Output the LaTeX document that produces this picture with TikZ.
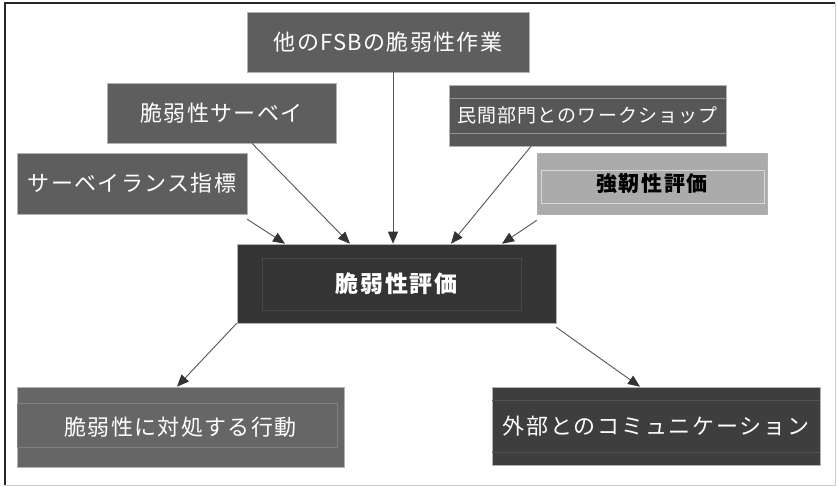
\documentclass[tikz,border=0pt]{standalone}
\usepackage{fontspec}
\newfontfamily\jp{Noto Sans CJK JP}
\newfontfamily\jpA[LetterSpace=6]{Noto Sans CJK JP}
\newfontfamily\jpB[LetterSpace=8]{Noto Sans CJK JP}
\usetikzlibrary{arrows.meta}
\definecolor{boxmid}{HTML}{5E5E5E}
\definecolor{boxws}{HTML}{575757}
\definecolor{boxlight}{HTML}{ABABAB}
\definecolor{boxdark}{HTML}{343434}
\definecolor{boxdark2}{HTML}{3E3E3E}
\definecolor{boxact}{HTML}{666666}
\definecolor{linegray}{HTML}{555555}
\tikzset{
  box/.style={rectangle, inner sep=0pt, text=white, font=\jpA\fontsize{22}{25}\selectfont, draw=gray!60, line width=0.6pt},
  lbl/.style={inner sep=0pt},
  arr/.style={draw=linegray, line width=0.9pt, -{Triangle[length=12pt,width=10pt,fill=black!80,color=black!80]}},
}
\begin{document}
\begin{tikzpicture}[x=1pt,y=-1pt]
\useasboundingbox (0,0) rectangle (838,487);
\fill[white] (0,0) rectangle (838,487);
% frame
\draw[black!20, line width=0.8pt] (835,3) -- (835,485) -- (5,485);
\draw[black!85, line width=1.2pt] (5,485) -- (5,3) -- (835,3);

% nodes
\node[box, fill=boxmid, minimum width=282, minimum height=60] (fsb) at (388,42) {他のFSBの脆弱性作業};
\node[box, fill=boxmid, minimum width=229, minimum height=60] (surv) at (221.5,113) {脆弱性サーベイ};
\node[box, fill=boxmid, minimum width=230, minimum height=61] (ind) at (132,183.5) {サーベイランス指標};
\node[box, fill=boxws, minimum width=277, minimum height=61] (ws) at (587.5,115.5) {};
\draw[gray!85, line width=0.5pt] (ws.west |- 0,98) -- (ws.east |- 0,98);
\draw[gray!85, line width=0.5pt] (ws.west |- 0,133) -- (ws.east |- 0,133);
\node[lbl, text=white, font=\jpA\fontsize{19}{22}\selectfont] (wst) at (ws.center) {民間部門とのワークショップ};
\node[box, fill=boxlight, minimum width=230, minimum height=61] (res) at (652,183.5) {};
\draw[white!55!boxlight, line width=0.6pt] (541,170) rectangle (764,203);
\node[lbl, text=black, font=\jpB\bfseries\fontsize{21}{24}\selectfont] (rest) at (res.center) {強靭性評価};
\node[box, fill=boxdark, minimum width=319, minimum height=79] (va) at (396.5,283.5) {};
\draw[black!72, line width=0.5pt] (262,258) rectangle (521,310);
\node[lbl, text=white, font=\jpB\bfseries\fontsize{23}{26}\selectfont] (vat) at (va.center) {脆弱性評価};
\node[box, fill=boxact, minimum width=327, minimum height=80] (act) at (180.5,427) {};
\draw[black!50, line width=0.4pt] (17,403) rectangle (337,447);
\node[lbl, text=white, font=\jpA\fontsize{22}{25}\selectfont] (actt) at (act.center) {脆弱性に対処する行動};
\node[box, fill=boxdark2, minimum width=328, minimum height=78] (com) at (656,426) {};
\draw[black!68, line width=0.4pt] (492,400) -- (820,400);
\draw[black!68, line width=0.4pt] (492,452) -- (820,452);
\node[lbl, text=white, font=\jpB\fontsize{22}{25}\selectfont] (comt) at (com.center) {外部とのコミュニケーション};

% connectors
\draw[arr] ([xshift=30.5]surv.south) -- ([xshift=-46.5]va.north);
\draw[arr] ([yshift=-5]ind.south east) -- ([xshift=-111.5]va.north);
\draw[arr] ([xshift=5]fsb.south) -- ([xshift=-3.5]va.north);
\draw[arr] ([xshift=-56.5]ws.south) -- ([xshift=54.5]va.north);
\draw[arr] ([yshift=-6]res.south west) -- ([xshift=105.5]va.north);
\draw[arr] (va.south west) -- ([xshift=-3.5]act.north);
\draw[arr] ([yshift=-4]va.south east) -- ([xshift=-16]com.north);
\end{tikzpicture}
\end{document}
